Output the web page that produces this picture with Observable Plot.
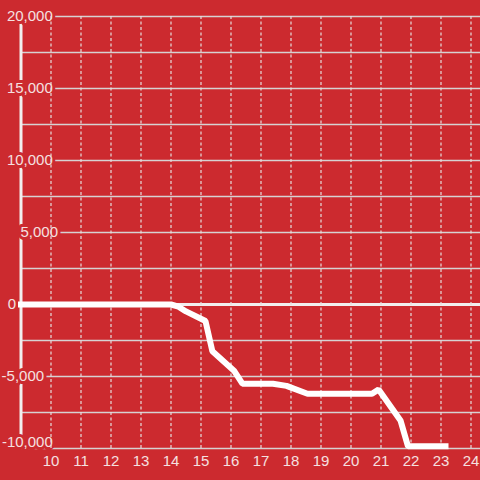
<!DOCTYPE html>
<html>
<head>
<meta charset="utf-8">
<script src="https://cdn.jsdelivr.net/npm/d3@7"></script>
<script src="https://cdn.jsdelivr.net/npm/@observablehq/plot@0.6"></script>
<style>
  html, body { margin: 0; padding: 0; background: #cc2a2f; }
  #chart { width: 480px; height: 480px; }
</style>
</head>
<body>
<div id="chart"></div>
<script>
// ---- data ----
const xTicks = [10, 11, 12, 13, 14, 15, 16, 17, 18, 19, 20, 21, 22, 23, 24];
const gridTicks = [-10000, -7500, -5000, -2500, 2500, 5000, 7500, 10000, 12500, 15000, 17500, 20000];
const yLabelTicks = [20000, 15000, 10000, 5000, 0, -5000, -10000];
const seriesX = [9, 14, 14.25, 14.5, 15.15, 15.38, 16.1, 16.38, 17.4, 17.85, 18.55, 20.7, 20.92, 21.65, 21.9, 23.15];
const seriesY = [0, 0, -150, -480, -1150, -3250, -4600, -5500, -5500, -5650, -6200, -6200, -5900, -8050, -9850, -9850];

// ---- layout / style ----
const BG = "#cc2a2f";
const TEXT = "#f5e0e0";
const FONT = "'Liberation Sans', Arial, sans-serif";
const yLabelDx = [31.8, 31.8, 31.8, 37, -4.8, 23.1, 31.8];
const yLabelDy = [0, 0, 0, 0, 0, 0, -6];

const fmt = d => d.toLocaleString("en-US");

const labelMarks = yLabelTicks.map((t, i) =>
  Plot.text([t], {
    y: d => d,
    text: fmt,
    frameAnchor: "left",
    textAnchor: "end",
    lineAnchor: "middle",
    dx: yLabelDx[i],
    dy: yLabelDy[i],
    fill: TEXT,
    stroke: BG,
    strokeWidth: 6,
    paintOrder: "stroke",
    fontSize: 15
  })
);

const chart = Plot.plot({
  width: 480,
  height: 480,
  marginLeft: 20.5,
  marginRight: 0,
  marginTop: 16,
  marginBottom: 32,
  style: { background: BG, fontFamily: FONT },
  x: { domain: [9, 9 + 459.5 / 30], axis: null },
  y: { domain: [-10000, 20000], axis: null },
  marks: [
    Plot.ruleY(gridTicks, { stroke: "#d6d2d2", strokeWidth: 1.5 }),
    Plot.ruleY([0], { stroke: "#f2eeee", strokeWidth: 3 }),
    Plot.ruleX([9], { stroke: "#f2eeee", strokeWidth: 3 }),
    ...labelMarks,
    Plot.ruleX(xTicks, { stroke: "#e4dede", strokeWidth: 1.2, strokeDasharray: "3,2.5" }),
    Plot.line(seriesY, {
      x: seriesX,
      y: seriesY,
      stroke: "#ffffff",
      strokeWidth: 6,
      strokeLinecap: "square",
      strokeLinejoin: "miter"
    }),
    Plot.text(xTicks, {
      x: d => d,
      text: d => String(d),
      frameAnchor: "bottom",
      lineAnchor: "middle",
      dy: 12.5,
      fill: TEXT,
      fontSize: 15
    })
  ]
});
document.getElementById("chart").appendChild(chart);
</script>
</body>
</html>
